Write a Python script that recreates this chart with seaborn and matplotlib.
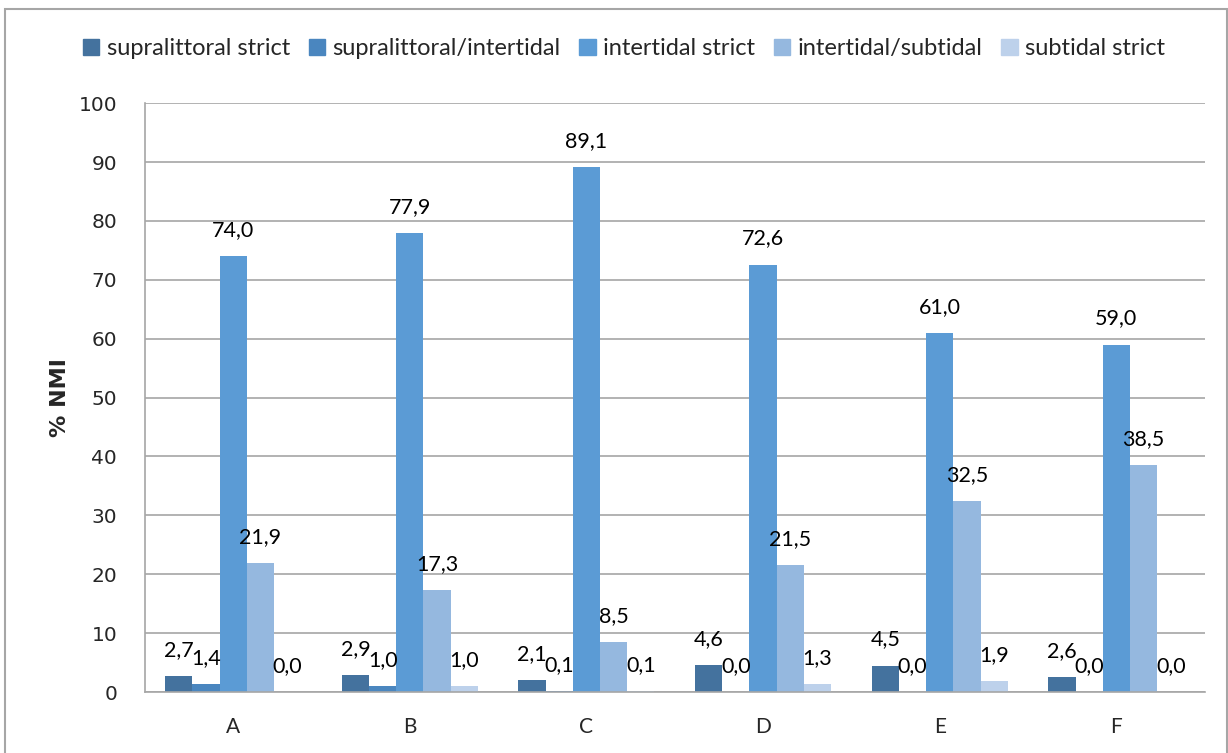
import matplotlib
matplotlib.use("Agg")
import matplotlib.pyplot as plt
import seaborn as sns
import pandas as pd
from matplotlib.patches import Rectangle

categories = ["A", "B", "C", "D", "E", "F"]
series_names = ["supralittoral strict", "supralittoral/intertidal", "intertidal strict",
                "intertidal/subtidal", "subtidal strict"]
supralittoral_strict = [2.7, 2.9, 2.1, 4.6, 4.5, 2.6]
supralittoral_intertidal = [1.4, 1.0, 0.1, 0.0, 0.0, 0.0]
intertidal_strict = [74.0, 77.9, 89.1, 72.6, 61.0, 59.0]
intertidal_subtidal = [21.9, 17.3, 8.5, 21.5, 32.5, 38.5]
subtidal_strict = [0.0, 1.0, 0.1, 1.3, 1.9, 0.0]
colors = ["#44729E", "#4A86BF", "#5B9BD5", "#95B8DF", "#BDD1EB"]

series_values = [supralittoral_strict, supralittoral_intertidal, intertidal_strict,
                 intertidal_subtidal, subtidal_strict]
rows = []
for name, vals in zip(series_names, series_values):
    for c, v in zip(categories, vals):
        rows.append({"cat": c, "series": name, "value": v})
df = pd.DataFrame(rows)

sns.set_style("white")
plt.rcParams["font.family"] = ["Lato", "DejaVu Sans"]

fig = plt.figure(figsize=(12.28, 7.53), dpi=100)
ax = fig.add_axes([0.118, 0.081, 0.863, 0.782])

sns.barplot(data=df, x="cat", y="value", hue="series", hue_order=series_names,
            order=categories, palette=colors, width=0.77, saturation=1,
            edgecolor="none", linewidth=0, ax=ax, legend=False)

ax.set_ylim(0, 100)
ax.set_xlim(-0.5, len(categories) - 0.5)
ax.set_yticks(range(0, 101, 10))
ax.yaxis.grid(True, color="#A6A6A6", linewidth=1.2)
ax.set_axisbelow(True)
for s in ["top", "right"]:
    ax.spines[s].set_visible(False)
ax.spines["left"].set_color("#A6A6A6")
ax.spines["bottom"].set_color("#A6A6A6")
ax.spines["left"].set_linewidth(1.2)
ax.spines["bottom"].set_linewidth(1.2)

ax.set_xticks(range(len(categories)))
ax.set_xticklabels(categories, fontsize=15)
ax.tick_params(axis="x", length=0, pad=18)
ax.tick_params(axis="y", length=0, pad=20, labelsize=14.5)
for lab in ax.get_yticklabels():
    lab.set_family("DejaVu Sans")
# minor ticks at category boundaries
ax.set_xticks([i + 0.5 for i in range(-1, len(categories))], minor=True)
ax.tick_params(axis="x", which="minor", length=8, color="#A6A6A6", width=1.2, direction="out")
ax.set_yticks(range(0, 101, 10), minor=True)
ax.tick_params(axis="y", which="minor", length=8, color="#A6A6A6", width=1.2)

ax.set_xlabel("")
ax.set_ylabel("% NMI", fontsize=16, fontweight="bold", family="DejaVu Sans", labelpad=6)

for cont in ax.containers:
    for bar in cont:
        h = bar.get_height()
        ax.annotate(f"{h:.1f}".replace(".", ","),
                    (bar.get_x() + bar.get_width() / 2, h),
                    xytext=(0, 26), textcoords="offset pixels",
                    ha="center", va="center", fontsize=15.5, color="black")

handles = [Rectangle((0, 0), 1, 1, color=c) for c in colors]
fig.legend(handles, series_names, loc="center", bbox_to_anchor=(0.508, 0.935), ncol=5,
           frameon=False, fontsize=17, handlelength=0.7, handleheight=0.7,
           handletextpad=0.3, columnspacing=0.8)

fig.patches.append(Rectangle((0.004, -0.01), 0.995, 0.998, transform=fig.transFigure,
                             fill=False, edgecolor="#A6A6A6", linewidth=1.5))

fig.savefig("out.png", dpi=100)
